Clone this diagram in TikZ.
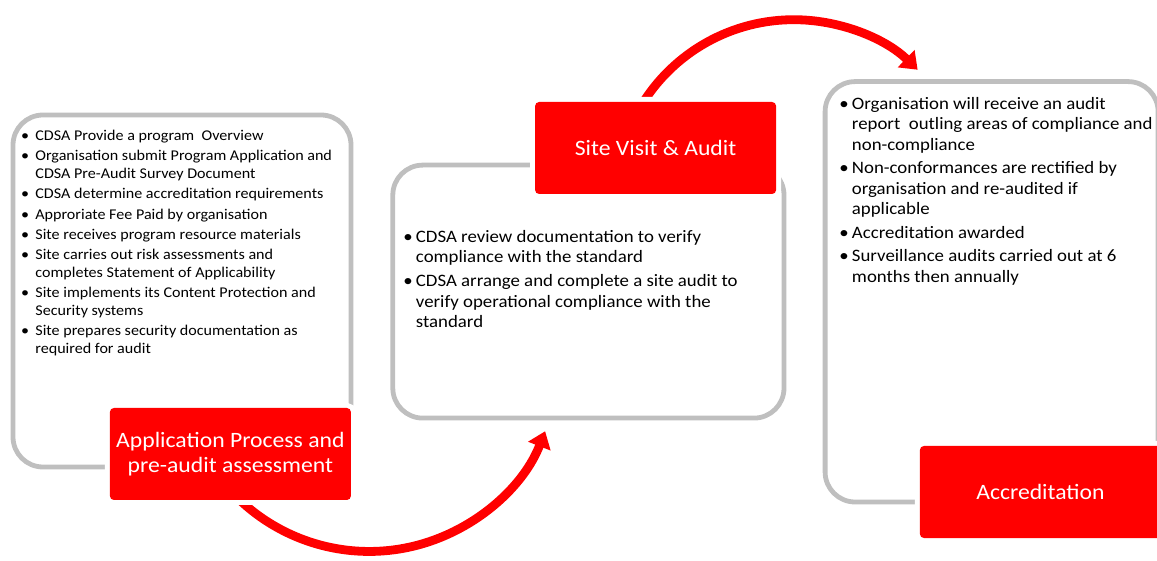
\documentclass[tikz,border=0pt]{standalone}
\usepackage{fontspec}
\setmainfont{Carlito}[FakeStretch=1.08]
\usetikzlibrary{arrows.meta,backgrounds}

\definecolor{stepred}{HTML}{FF0000}
\definecolor{panelgray}{HTML}{BFBFBF}

% one bullet list per panel, lines broken by hand
\newcommand{\smalllist}[1]{{\fontsize{10.6}{12.5}\selectfont
  \begin{tabular}[t]{@{}l@{\hspace{4.5pt}}l@{}}#1\end{tabular}}}
\newcommand{\biglist}[1]{{\fontsize{12.4}{14.4}\selectfont
  \begin{tabular}[t]{@{}l@{\hspace{2.2pt}}l@{}}#1\end{tabular}}}

\begin{document}
\begin{tikzpicture}
      \useasboundingbox (0,0) rectangle (28.925,14);
      \tikzset{
      panel/.style = {draw=panelgray, line width=0.12cm, rounded corners=0.75cm, inner sep=0pt},
      stepbox/.style = {fill=stepred, text=white, rounded corners=0.1cm,
        minimum width=6.025cm, minimum height=2.3cm, align=center,
        font=\fontsize{15.6}{17.8}\selectfont,
        preaction={draw=white, line width=0.25cm}},
      flow/.style = {stepred, line width=0.22cm, -{Triangle[length=0.4cm,width=0.58cm]}},
      listtext/.style = {anchor=base west, inner sep=0pt, align=left} }

      % grey panels
      \node[panel, minimum width=8.45cm, minimum height=8.8cm] (applpanel) at (4.55,6.725) {};
      \node[panel, minimum width=9.78cm, minimum height=6.325cm] (sitepanel) at (14.71,6.71) {};
      \node[panel, minimum width=8.325cm, minimum height=10.51cm] (accrpanel) at (24.79,6.705) {};

      % red step boxes
      \node[stepbox] (appl) at (5.76,2.65) {Application Process and\\pre-audit assessment};
      \node[stepbox] (site) at (16.39,10.3) {Site Visit \& Audit};
      \node[stepbox] (accr) at (26.01,1.7) {Accreditation};

      % bullet texts
      \node[listtext] (appltext) at (0.52,10.49) {\smalllist{
        \textbullet & CDSA Provide a program~ Overview\\[2pt]
        \textbullet & Organisation submit Program Application and\\
                    & CDSA Pre-Audit Survey Document\\[2pt]
        \textbullet & CDSA determine accreditation requirements\\[2pt]
        \textbullet & Approriate Fee Paid by organisation\\[2pt]
        \textbullet & Site receives program resource materials\\[2pt]
        \textbullet & Site carries out risk assessments and\\
                    & completes Statement of Applicability\\[2pt]
        \textbullet & Site implements its Content Protection and\\
                    & Security systems\\[2pt]
        \textbullet & Site prepares security documentation as\\
                    & required for audit}};
      \node[listtext] (sitetext) at (10.08,7.94) {\biglist{
        \textbullet & CDSA review documentation to verify\\
                    & compliance with the standard\\[2.8pt]
        \textbullet & CDSA arrange and complete a site audit to\\
                    & verify operational compliance with the\\
                    & standard}};
      \node[listtext] (accrtext) at (20.98,11.26) {\biglist{
        \textbullet & Organisation will receive an audit\\
                    & report~ outling areas of compliance and\\
                    & non-compliance\\[2.5pt]
        \textbullet & Non-conformances are rectified by\\
                    & organisation and re-audited if\\
                    & applicable\\[2.5pt]
        \textbullet & Accreditation awarded\\[2.5pt]
        \textbullet & Surveillance audits carried out at 6\\
                    & months then annually}};

      % curved arrows between the steps
      \begin{pgfonlayer}{background}
      \draw[flow] ([xshift=0.24cm]appl.south) arc[start angle=226.8, end angle=338.7, radius=4.72cm];
      \draw[flow] ([xshift=-0.3cm]site.north) arc[start angle=147.3, end angle=46, radius=4.46cm];
      \end{pgfonlayer}
\end{tikzpicture}
\end{document}
